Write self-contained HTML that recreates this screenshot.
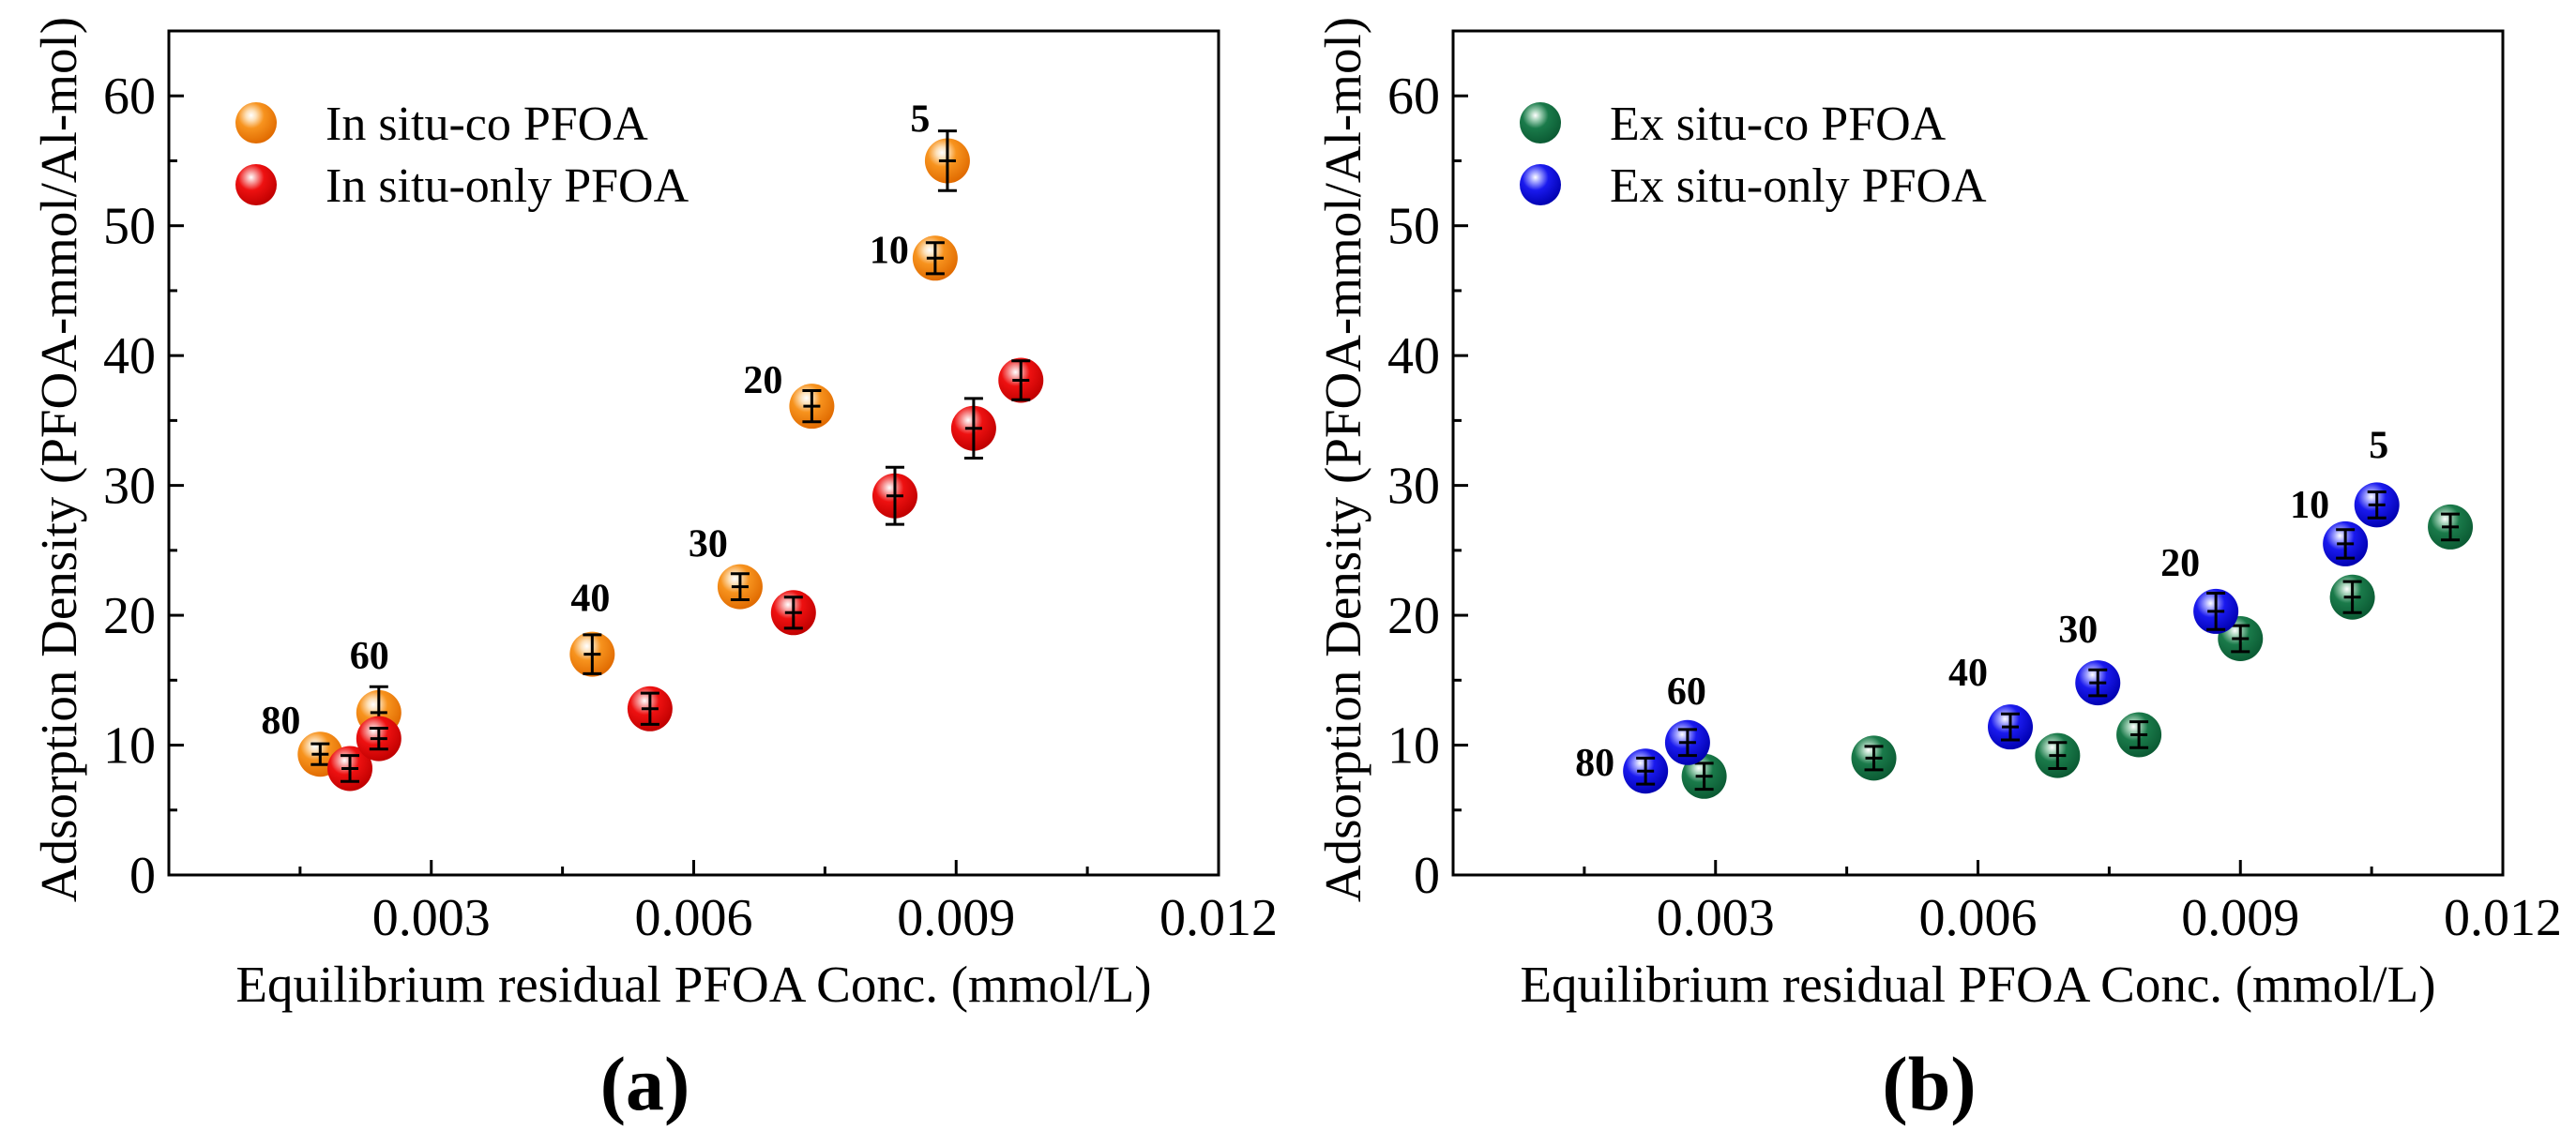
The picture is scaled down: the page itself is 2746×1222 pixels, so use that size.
<!DOCTYPE html>
<html><head><meta charset="utf-8"><style>
html,body{margin:0;padding:0;background:#fff;}
svg{display:block;font-family:"Liberation Serif",serif;}
</style></head><body>
<svg id="chart" width="2746" height="1222" viewBox="0 0 2746 1222" xmlns="http://www.w3.org/2000/svg">
<defs>
<radialGradient id="gOrange" cx="0.38" cy="0.32" r="0.7"><stop offset="0" stop-color="#fff"/><stop offset="0.18" stop-color="#fde0b8"/><stop offset="0.45" stop-color="#f7931e"/><stop offset="1" stop-color="#e06a00"/></radialGradient>
<radialGradient id="gRed" cx="0.38" cy="0.32" r="0.7"><stop offset="0" stop-color="#fff"/><stop offset="0.18" stop-color="#f7a0a0"/><stop offset="0.45" stop-color="#ee1111"/><stop offset="1" stop-color="#c00000"/></radialGradient>
<radialGradient id="gGreen" cx="0.38" cy="0.32" r="0.7"><stop offset="0" stop-color="#fff"/><stop offset="0.18" stop-color="#9fcfb4"/><stop offset="0.45" stop-color="#1a7a4a"/><stop offset="1" stop-color="#0b5a33"/></radialGradient>
<radialGradient id="gBlue" cx="0.38" cy="0.32" r="0.7"><stop offset="0" stop-color="#fff"/><stop offset="0.18" stop-color="#9ea0ff"/><stop offset="0.45" stop-color="#1a1aee"/><stop offset="1" stop-color="#0000b0"/></radialGradient>
</defs>
</svg>
<script>
// ---- data ----
const xTicks = [0.003, 0.006, 0.009, 0.012];
const xTickLabels = ["0.003", "0.006", "0.009", "0.012"];
const yTicks = [0, 10, 20, 30, 40, 50, 60];
const yTickLabels = ["0", "10", "20", "30", "40", "50", "60"];
const doseLabels = ["80", "60", "40", "30", "20", "10", "5"];

const inCoX = [0.00173, 0.0024, 0.00484, 0.00653, 0.00735, 0.00876, 0.0089];
const inCoY = [9.3, 12.5, 17.0, 22.2, 36.1, 47.5, 55.0];
const inCoErr = [0.8, 2.0, 1.5, 1.0, 1.2, 1.2, 2.3];
const inOnlyX = [0.00207, 0.0024, 0.0055, 0.00714, 0.0083, 0.0092, 0.00974];
const inOnlyY = [8.2, 10.5, 12.8, 20.2, 29.2, 34.4, 38.1];
const inOnlyErr = [1.0, 0.8, 1.2, 1.2, 2.2, 2.3, 1.5];

const exCoX = [0.00287, 0.00481, 0.00691, 0.00784, 0.009, 0.01028, 0.0114];
const exCoY = [7.6, 9.0, 9.2, 10.8, 18.2, 21.4, 26.8];
const exCoErr = [1.0, 0.9, 1.0, 1.0, 1.0, 1.2, 1.0];
const exOnlyX = [0.0022, 0.00268, 0.00637, 0.00737, 0.00872, 0.0102, 0.01056];
const exOnlyY = [8.0, 10.2, 11.4, 14.8, 20.3, 25.5, 28.5];
const exOnlyErr = [1.0, 1.0, 1.0, 1.0, 1.4, 1.1, 1.0];

const NS = "http://www.w3.org/2000/svg";
const svg = document.getElementById("chart");
function mk(tag, attrs, parent, text) {
  const e = document.createElementNS(NS, tag);
  for (const k in attrs) e.setAttribute(k, attrs[k]);
  if (text !== undefined) e.textContent = text;
  (parent || svg).appendChild(e);
  return e;
}

function panel(px0, px1, panelLetter, series, legendNames, labelOffsets, labelAnchorSeries) {
  const py0 = 933, py1 = 33;
  const xs = v => px0 + v / 0.012 * (px1 - px0);
  const ys = v => py0 - v / 65 * (py0 - py1);
  const g = mk("g", {});
  
  
  const box = mk("rect", {x: px0, y: py1, width: px1 - px0, height: py0 - py1, fill: "none", stroke: "#000", "stroke-width": 3}, g);
  
  
  // x ticks
  for (let i = 0; i < xTicks.length; i++) {
    const x = xs(xTicks[i]);
    const t = mk("line", {x1: x, x2: x, y1: py0, y2: py0 - 16, stroke: "#000", "stroke-width": 3}, g);
    
    
    const mx = xs(xTicks[i] - 0.0015);
    const m = mk("line", {x1: mx, x2: mx, y1: py0, y2: py0 - 9, stroke: "#000", "stroke-width": 3}, g);
    
    
    const l = mk("text", {x: x, y: 997, "font-size": 56, "text-anchor": "middle"}, g, xTickLabels[i]);
    
    
  }
  for (let i = 0; i < yTicks.length; i++) {
    const y = ys(yTicks[i]);
    const t = mk("line", {x1: px0, x2: px0 + 16, y1: y, y2: y, stroke: "#000", "stroke-width": 3}, g);
    
    
    const my = ys(yTicks[i] + 5);
    const m = mk("line", {x1: px0, x2: px0 + 9, y1: my, y2: my, stroke: "#000", "stroke-width": 3}, g);
    
    
    const l = mk("text", {x: px0 - 14, y: y + 19, "font-size": 56, "text-anchor": "end"}, g, yTickLabels[i]);
    
    
  }
  const xt = mk("text", {x: (px0 + px1) / 2, y: 1068, "font-size": 55, "text-anchor": "middle"}, g, "Equilibrium residual PFOA Conc. (mmol/L)");
  
  
  const ytx = px0 - 118;
  const yt = mk("text", {x: ytx, y: 490, "font-size": 55, "text-anchor": "middle", transform: "rotate(-90 " + ytx + " 490)", dy: 19}, g, "Adsorption Density (PFOA-mmol/Al-mol)");
  
  
  const pl = mk("text", {x: (px0 + px1) / 2 - 52, y: 1183, "font-size": 82, "font-weight": "bold", "text-anchor": "middle"}, g, "(" + panelLetter + ")");
  
  
  // series
  series.forEach((s, si) => {
    const sg = mk("g", {}, g);
    
    
    for (let i = 0; i < s.x.length; i++) {
      const cx = xs(s.x[i]), cy = ys(s.y[i]);
      const c = mk("circle", {cx: cx, cy: cy, r: 24, fill: "url(#" + s.grad + ")"}, sg);
      
      
      const top = ys(s.y[i] + s.e[i]), bot = ys(s.y[i] - s.e[i]);
      const eb = mk("path", {d: "M" + cx + " " + top + "V" + bot + "M" + (cx - 10) + " " + top + "H" + (cx + 10) + "M" + (cx - 10) + " " + bot + "H" + (cx + 10) + "M" + (cx - 9) + " " + cy + "H" + (cx + 9), stroke: "#000", "stroke-width": 3, fill: "none"}, sg);
      
      
    }
    // legend
    const ly = 131 + si * 66;
    const lc = mk("circle", {cx: px0 + 93, cy: ly, r: 22, fill: "url(#" + s.grad + ")"}, g);
    
    
    const lt = mk("text", {x: px0 + 167, y: ly + 18, "font-size": 52}, g, legendNames[si]);
    
    
  });
  // dose labels
  const ls = labelAnchorSeries;
  for (let i = 0; i < doseLabels.length; i++) {
    const s = ls[i];
    const lx = xs(s.x[i]) + labelOffsets[i][0], ly = ys(s.y[i]) + labelOffsets[i][1];
    const t = mk("text", {x: lx, y: ly + 15, "font-size": 42, "font-weight": "bold", "text-anchor": "middle"}, g, doseLabels[i]);
    
    
  }
}

const sInCo = {name: "in-situ-co", x: inCoX, y: inCoY, e: inCoErr, grad: "gOrange"};
const sInOnly = {name: "in-situ-only", x: inOnlyX, y: inOnlyY, e: inOnlyErr, grad: "gRed"};
const sExCo = {name: "ex-situ-co", x: exCoX, y: exCoY, e: exCoErr, grad: "gGreen"};
const sExOnly = {name: "ex-situ-only", x: exOnlyX, y: exOnlyY, e: exOnlyErr, grad: "gBlue"};

panel(180, 1299, "a", [sInCo, sInOnly], ["In situ-co PFOA", "In situ-only PFOA"],
  [[-42, -37], [-10, -62], [-2, -61], [-34, -47], [-52, -29], [-49, -10], [-29, -46]],
  [sInCo, sInCo, sInCo, sInCo, sInCo, sInCo, sInCo]);
panel(1549, 2668, "b", [sExCo, sExOnly], ["Ex situ-co PFOA", "Ex situ-only PFOA"],
  [[-54, -10], [-1, -56], [-45, -59], [-21, -58], [-38, -53], [-38, -43], [2, -65]],
  [sExOnly, sExOnly, sExOnly, sExOnly, sExOnly, sExOnly, sExOnly]);
</script>
</body></html>
